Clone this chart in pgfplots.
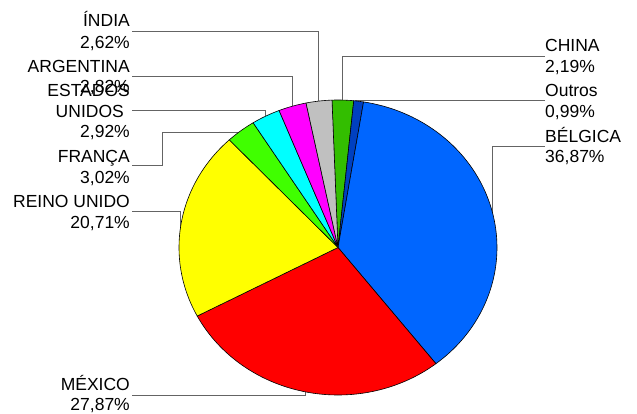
\documentclass[border=0pt]{standalone}
\usepackage{pgfplots}
\pgfplotsset{compat=1.18}
\usepackage{fontspec}
\setmainfont{Liberation Sans}
\definecolor{cChina}{RGB}{51,190,0}
\definecolor{cOutros}{RGB}{0,64,192}
\definecolor{cBelgica}{RGB}{0,102,255}
\definecolor{cMexico}{RGB}{255,0,0}
\definecolor{cRU}{RGB}{255,255,0}
\definecolor{cFranca}{RGB}{64,255,0}
\definecolor{cEUA}{RGB}{0,255,255}
\definecolor{cArg}{RGB}{255,0,255}
\definecolor{cIndia}{RGB}{192,192,192}
\definecolor{lead}{RGB}{100,100,100}
\newcommand\lblfont{\fontsize{17.5bp}{21bp}\selectfont}
\tikzset{lbl/.style={font=\lblfont, inner sep=0pt}}
% pie geometry (pixel units): centre, radii, start angle (deg, clockwise from top)
\def\cx{338}\def\cy{247.5}\def\rx{159}\def\ry{147.5}\def\phz{-2.2}
\gdef\cum{0}
\newcommand\slice[2]{%
  \pgfmathsetmacro\sa{\phz+3.6*\cum}%
  \pgfmathsetmacro\tmp{\cum+#1}\xdef\cum{\tmp}%
  \pgfmathsetmacro\sb{\phz+3.6*\cum}%
  \addplot[draw=black, line width=0.6pt, fill=#2, domain=\sa:\sb, samples=80, variable=\t]
    ({\cx+\rx*sin(\t)},{\cy-\ry*cos(\t)}) -- (axis cs:\cx,\cy) -- cycle;}
\begin{document}
\begin{tikzpicture}
\begin{axis}[scale only axis, width=637bp, height=414bp,
  xmin=0, xmax=637, ymin=0, ymax=414, y dir=reverse,
  hide axis, clip=false]
% leader lines
\draw[lead, line width=0.9pt] (axis cs:132,31) -- (axis cs:318,31) -- (axis cs:318,104);
\draw[lead, line width=0.9pt] (axis cs:132,76) -- (axis cs:292,76) -- (axis cs:292,110);
\draw[lead, line width=0.9pt] (axis cs:132,110) -- (axis cs:265,110) -- (axis cs:265,120);
\draw[lead, line width=0.9pt] (axis cs:132,165) -- (axis cs:162,165) -- (axis cs:162,132) -- (axis cs:240,132);
\draw[lead, line width=0.9pt] (axis cs:132,211) -- (axis cs:180,211) -- (axis cs:180,235);
\draw[lead, line width=0.9pt] (axis cs:132,395) -- (axis cs:305,395) -- (axis cs:305,389);
\draw[lead, line width=0.9pt] (axis cs:545,56) -- (axis cs:342,56) -- (axis cs:342,104);
\draw[lead, line width=0.9pt] (axis cs:545,100) -- (axis cs:355,100) -- (axis cs:355,104);
\draw[lead, line width=0.9pt] (axis cs:545,146) -- (axis cs:492,146) -- (axis cs:492,214);
% slices (percent shares, clockwise)
\slice{2.19}{cChina}
\slice{0.99}{cOutros}
\slice{36.87}{cBelgica}
\slice{27.87}{cMexico}
\slice{20.71}{cRU}
\slice{3.02}{cFranca}
\slice{2.92}{cEUA}
\slice{2.82}{cArg}
\slice{2.62}{cIndia}
% labels left
\node[lbl, anchor=base east] at (axis cs:130,27) {ÍNDIA};
\node[lbl, anchor=base east] at (axis cs:130,48) {2,62\%};
\node[lbl, anchor=base east] at (axis cs:130,72) {ARGENTINA};
\node[lbl, anchor=base east] at (axis cs:130,92) {2,82\%};
\node[lbl, anchor=base east] at (axis cs:130,96) {ESTADOS};
\node[lbl, anchor=base east] at (axis cs:124,117) {UNIDOS};
\node[lbl, anchor=base east] at (axis cs:130,137) {2,92\%};
\node[lbl, anchor=base east] at (axis cs:130,162) {FRANÇA};
\node[lbl, anchor=base east] at (axis cs:130,183) {3,02\%};
\node[lbl, anchor=base east] at (axis cs:130,207) {REINO UNIDO};
\node[lbl, anchor=base east] at (axis cs:130,228) {20,71\%};
\node[lbl, anchor=base east] at (axis cs:130,390) {MÉXICO};
\node[lbl, anchor=base east] at (axis cs:130,410.5) {27,87\%};
% labels right
\node[lbl, anchor=base west] at (axis cs:545,51) {CHINA};
\node[lbl, anchor=base west] at (axis cs:545,72) {2,19\%};
\node[lbl, anchor=base west] at (axis cs:545,96) {Outros};
\node[lbl, anchor=base west] at (axis cs:545,117) {0,99\%};
\node[lbl, anchor=base west] at (axis cs:545,142) {BÉLGICA};
\node[lbl, anchor=base west] at (axis cs:545,162) {36,87\%};
\end{axis}
\pgfresetboundingbox
\path (0,0) rectangle (637bp,414bp);
\end{tikzpicture}
\end{document}
